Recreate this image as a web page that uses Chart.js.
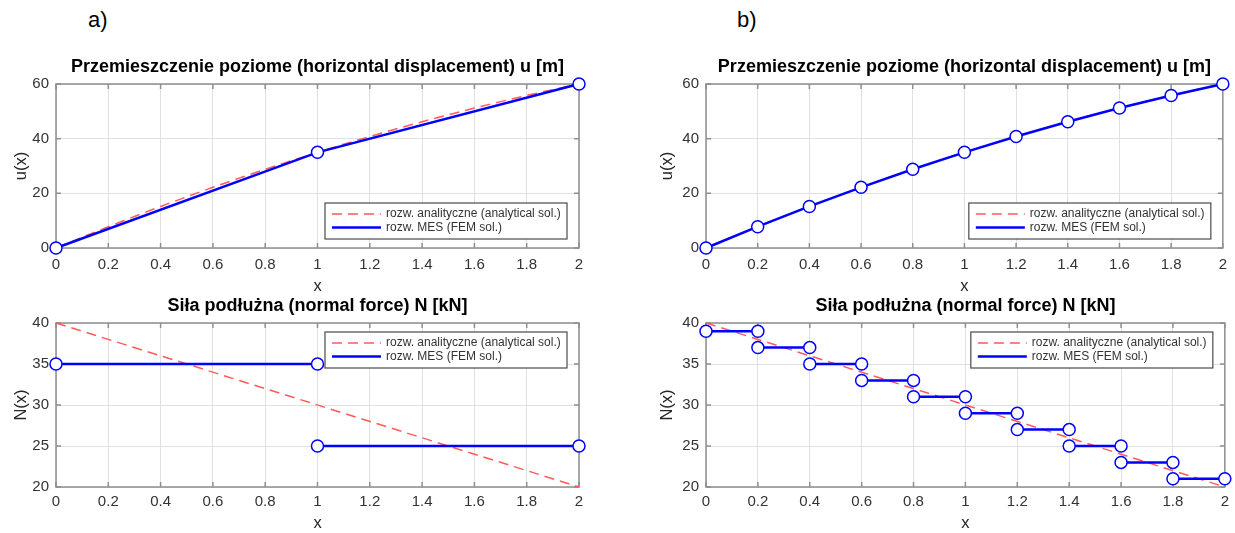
<!DOCTYPE html>
<html><head><meta charset="utf-8">
<script src="https://cdn.jsdelivr.net/npm/chart.js@4.4.0/dist/chart.umd.min.js"></script>
<style>
html,body{margin:0;padding:0;background:#fff;}
#wrap{position:relative;width:1235px;height:533px;overflow:hidden;background:#fff;}
canvas{position:absolute;}
.lab{position:absolute;font-family:"Liberation Sans",Arial,sans-serif;font-size:22px;color:#000;line-height:24px;}
</style></head><body>
<div id="wrap">
<div class="lab" style="left:88px;top:8px">a)</div>
<div class="lab" style="left:737px;top:8px">b)</div>
<canvas id="c1" width="610" height="256" style="left:0;top:40px;width:610px;height:256px"></canvas>
<canvas id="c2" width="615" height="256" style="left:620px;top:40px;width:615px;height:256px"></canvas>
<canvas id="c3" width="610" height="243" style="left:0;top:290px;width:610px;height:243px"></canvas>
<canvas id="c4" width="615" height="243" style="left:620px;top:290px;width:615px;height:243px"></canvas>
</div>
<script>
// ---- data ----
const xTicks = [0, 0.2, 0.4, 0.6, 0.8, 1, 1.2, 1.4, 1.6, 1.8, 2];
const xTickLabels = ['0', '0.2', '0.4', '0.6', '0.8', '1', '1.2', '1.4', '1.6', '1.8', '2'];
const uTicks = [0, 20, 40, 60];
const uTickLabels = ['0', '20', '40', '60'];
const nTicks = [20, 25, 30, 35, 40];
const nTickLabels = ['20', '25', '30', '35', '40'];

const titleU = 'Przemieszczenie poziome (horizontal displacement) u [m]';
const titleN = 'Siła podłużna (normal force) N [kN]';
const labelAnalytical = 'rozw. analityczne (analytical sol.)';
const labelFEM = 'rozw. MES (FEM sol.)';

// analytical displacement
const uAnalyticalX = [0, 0.1, 0.2, 0.3, 0.4, 0.5, 0.6, 0.7, 0.8, 0.9, 1, 1.1, 1.2, 1.3, 1.4, 1.5, 1.6, 1.7, 1.8, 1.9, 2];
const uAnalytical = [0, 3.95, 7.8, 11.55, 15.2, 18.75, 22.2, 25.55, 28.8, 31.95, 35, 37.95, 40.8, 43.55, 46.2, 48.75, 51.2, 53.55, 55.8, 57.95, 60];
// analytical normal force
const nAnalyticalX = [0, 2];
const nAnalytical = [40, 20];

// a) FEM, 2 elements
const aNodesX = [0, 1, 2];
const aU = [0, 35, 60];
const aElemStart = [0, 1];
const aElemEnd = [1, 2];
const aN = [35, 25];

// b) FEM, 10 elements
const bNodesX = [0, 0.2, 0.4, 0.6, 0.8, 1, 1.2, 1.4, 1.6, 1.8, 2];
const bU = [0, 7.8, 15.2, 22.2, 28.8, 35, 40.8, 46.2, 51.2, 55.8, 60];
const bElemStart = [0, 0.2, 0.4, 0.6, 0.8, 1, 1.2, 1.4, 1.6, 1.8];
const bElemEnd = [0.2, 0.4, 0.6, 0.8, 1, 1.2, 1.4, 1.6, 1.8, 2];
const bN = [39, 37, 35, 33, 31, 29, 27, 25, 23, 21];

// ---- helpers ----
const FONT = '"Liberation Sans", Arial, Helvetica, sans-serif';
const pts = (xs, ys) => xs.map((x, i) => ({x: x, y: ys[i]}));
function steps(s, e, v) {
  const out = [];
  s.forEach((x0, i) => {
    out.push({x: x0, y: v[i]}, {x: e[i], y: v[i]}, {x: e[i], y: null});
  });
  return out;
}
function redSet(data) {
  return {label: labelAnalytical, data: data, borderColor: '#ff5a5a', borderWidth: 1.5,
    borderDash: [10, 6], pointRadius: 0, order: 2, fill: false, tension: 0, clip: false};
}
function blueSet(data) {
  return {label: labelFEM, data: data, borderColor: '#0000ff', borderWidth: 2.5,
    pointRadius: 6, pointBorderWidth: 1.5, pointBackgroundColor: '#ffffff', pointBorderColor: '#0000ff',
    order: 1, fill: false, tension: 0, spanGaps: false, clip: false};
}

const axesBox = {
  id: 'axesBox',
  beforeDatasetsDraw(chart) {
    const {ctx, chartArea: ca, scales: {x, y}} = chart;
    ctx.save();
    ctx.strokeStyle = '#8f8f8f';
    ctx.lineWidth = 1.5;
    ctx.strokeRect(ca.left, ca.top, ca.right - ca.left, ca.bottom - ca.top);
    ctx.beginPath();
    x.ticks.forEach(t => {
      const px = x.getPixelForValue(t.value);
      ctx.moveTo(px, ca.bottom); ctx.lineTo(px, ca.bottom - 5);
      ctx.moveTo(px, ca.top); ctx.lineTo(px, ca.top + 5);
    });
    y.ticks.forEach(t => {
      const py = y.getPixelForValue(t.value);
      ctx.moveTo(ca.left, py); ctx.lineTo(ca.left + 5, py);
      ctx.moveTo(ca.right, py); ctx.lineTo(ca.right - 5, py);
    });
    ctx.stroke();
    ctx.restore();
  }
};

const boxLegend = {
  id: 'boxLegend',
  afterDatasetsDraw(chart, args, o) {
    const {ctx, chartArea: ca} = chart;
    const w = 242, h = 36;
    const right = ca.right - 12;
    const left = right - w;
    const top = o.pos === 'top' ? ca.top + 9 : ca.bottom - 9 - h;
    ctx.save();
    ctx.fillStyle = '#ffffff';
    ctx.fillRect(left, top, w, h);
    ctx.strokeStyle = '#4a4a4a';
    ctx.lineWidth = 1.2;
    ctx.strokeRect(left, top, w, h);
    o.items.forEach((di, k) => {
      const ds = chart.data.datasets[di];
      const yy = top + 11 + k * 13.5;
      ctx.beginPath();
      ctx.setLineDash(ds.borderDash || []);
      ctx.strokeStyle = ds.borderColor;
      ctx.lineWidth = ds.borderWidth;
      ctx.moveTo(left + 7, yy); ctx.lineTo(left + 56, yy);
      ctx.stroke();
      ctx.setLineDash([]);
      ctx.fillStyle = '#333333';
      ctx.font = '12px ' + FONT;
      ctx.textBaseline = 'middle';
      ctx.textAlign = 'left';
      ctx.fillText(ds.label, left + 61, yy);
    });
    ctx.restore();
  }
};

function makeChart(id, c) {
  return new Chart(document.getElementById(id), {
    type: 'line',
    data: {datasets: c.datasets},
    options: {
      responsive: false, animation: false, events: [],
      layout: {padding: {left: 0, right: c.rightPad, top: 0, bottom: 0}},
      plugins: {
        legend: {display: false}, tooltip: {enabled: false},
        title: {display: true, text: c.title, fullSize: false, color: '#000',
          font: {family: FONT, size: 18, weight: 'bold'}, padding: c.titlePad},
        boxLegend: {pos: c.legendPos, items: [0, 1]}
      },
      scales: {
        x: {type: 'linear', min: 0, max: 2,
          afterBuildTicks: s => { s.ticks = xTicks.map(v => ({value: v})); },
          afterFit: s => { s.height = c.xHeight; },
          ticks: {callback: (v, i) => xTickLabels[i], color: '#333', padding: c.xTickPad,
            font: {family: FONT, size: 15}, maxRotation: 0, autoSkip: false},
          grid: {color: '#e0e0e0', lineWidth: 1, drawTicks: false},
          border: {display: false},
          title: {display: true, text: 'x', color: '#262626', font: {family: FONT, size: 16.5},
            padding: {top: 0, bottom: 0}}
        },
        y: {type: 'linear', min: c.yMin, max: c.yMax,
          afterBuildTicks: s => { s.ticks = c.yTicks.map(v => ({value: v})); },
          afterFit: s => { s.width = c.yWidth; },
          ticks: {callback: (v, i) => c.yTickLabels[i], color: '#333', padding: 7,
            font: {family: FONT, size: 15}, autoSkip: false},
          grid: {color: '#e0e0e0', lineWidth: 1, drawTicks: false},
          border: {display: false},
          title: {display: true, text: c.yTitle, color: '#262626', font: {family: FONT, size: 16.5},
            padding: {top: c.yTitlePad, bottom: 0}}
        }
      }
    },
    plugins: [axesBox, boxLegend]
  });
}

makeChart('c1', {
  title: titleU, yTitle: 'u(x)', yMin: 0, yMax: 60, yTicks: uTicks, yTickLabels: uTickLabels,
  datasets: [redSet(pts(uAnalyticalX, uAnalytical)), blueSet(pts(aNodesX, aU))],
  legendPos: 'bottom', rightPad: 31, yWidth: 56, yTitlePad: 12, xHeight: 48, xTickPad: 8,
  titlePad: {top: 16, bottom: 6.4}
});
makeChart('c2', {
  title: titleU, yTitle: 'u(x)', yMin: 0, yMax: 60, yTicks: uTicks, yTickLabels: uTickLabels,
  datasets: [redSet(pts(uAnalyticalX, uAnalytical)), blueSet(pts(bNodesX, bU))],
  legendPos: 'bottom', rightPad: 6, yWidth: 86, yTitlePad: 38, xHeight: 48, xTickPad: 8,
  titlePad: {top: 16, bottom: 6.4}
});
makeChart('c3', {
  title: titleN, yTitle: 'N(x)', yMin: 20, yMax: 40, yTicks: nTicks, yTickLabels: nTickLabels,
  datasets: [redSet(pts(nAnalyticalX, nAnalytical)), blueSet(steps(aElemStart, aElemEnd, aN))],
  legendPos: 'top', rightPad: 31, yWidth: 56, yTitlePad: 12, xHeight: 46, xTickPad: 6,
  titlePad: {top: 5, bottom: 6.4}
});
makeChart('c4', {
  title: titleN, yTitle: 'N(x)', yMin: 20, yMax: 40, yTicks: nTicks, yTickLabels: nTickLabels,
  datasets: [redSet(pts(nAnalyticalX, nAnalytical)), blueSet(steps(bElemStart, bElemEnd, bN))],
  legendPos: 'top', rightPad: 6, yWidth: 86, yTitlePad: 38, xHeight: 46, xTickPad: 6,
  titlePad: {top: 5, bottom: 6.4}
});
</script>
</body></html>
